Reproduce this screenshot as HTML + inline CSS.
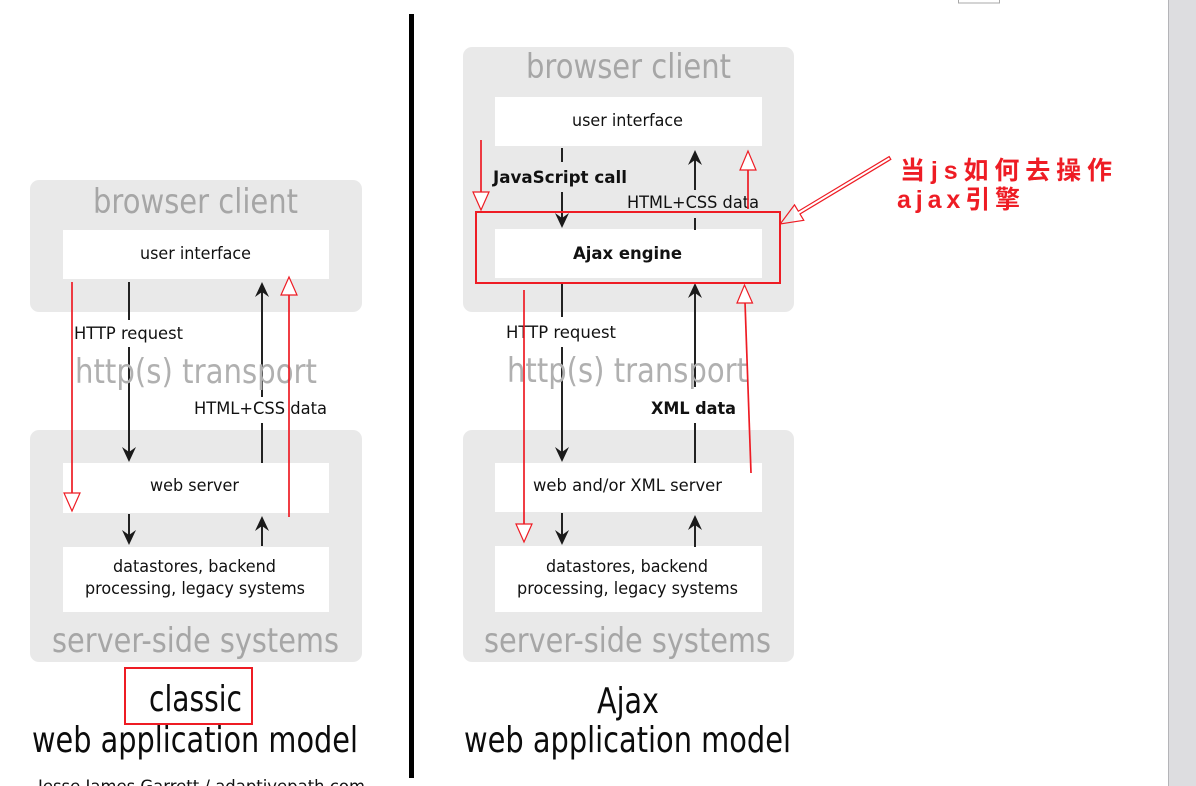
<!DOCTYPE html>
<html><head><meta charset="utf-8"><style>
html,body{margin:0;padding:0;background:#fff;}
svg{display:block;}
</style></head><body>
<svg width="1196" height="786" viewBox="0 0 1196 786" xmlns="http://www.w3.org/2000/svg">
<rect x="0" y="0" width="1196" height="786" fill="#ffffff"/>
<!-- right panel -->
<rect x="1168" y="0" width="28" height="786" fill="#dddde0"/>
<line x1="1168.5" y1="0" x2="1168.5" y2="786" stroke="#b4b4b8" stroke-width="1"/>
<rect x="958.5" y="-2" width="41" height="5" fill="none" stroke="#a8a8a8" stroke-width="1"/>

<!-- divider -->
<rect x="409" y="14" width="5" height="764" fill="#000"/>

<!-- gray boxes -->
<g fill="#e9e9e9">
<rect x="30" y="180" width="332" height="132" rx="9"/>
<rect x="30" y="430" width="332" height="232" rx="9"/>
<rect x="463" y="47" width="331" height="265" rx="9"/>
<rect x="463" y="430" width="331" height="232" rx="9"/>
</g>
<!-- white boxes -->
<g fill="#ffffff">
<rect x="63" y="230" width="266" height="49"/>
<rect x="63" y="463" width="266" height="50"/>
<rect x="63" y="547" width="266" height="65"/>
<rect x="495" y="97" width="267" height="49"/>
<rect x="495" y="229" width="267" height="49"/>
<rect x="495" y="463" width="267" height="49"/>
<rect x="495" y="546" width="267" height="66"/>
</g>

<!-- black arrows -->
<g stroke="#222" stroke-width="2" fill="none">
<line x1="129" y1="282" x2="129" y2="320"/>
<line x1="129" y1="347" x2="129" y2="455"/>
<line x1="262" y1="463" x2="262" y2="423"/>
<line x1="262" y1="397" x2="262" y2="290"/>
<line x1="129" y1="514" x2="129" y2="538"/>
<line x1="262" y1="546" x2="262" y2="523"/>

<line x1="562" y1="148" x2="562" y2="162"/>
<line x1="562" y1="192" x2="562" y2="221"/>
<line x1="695" y1="230" x2="695" y2="218"/>
<line x1="695" y1="190" x2="695" y2="157"/>
<line x1="562" y1="283" x2="562" y2="317"/>
<line x1="562" y1="347" x2="562" y2="455"/>
<line x1="695" y1="463" x2="695" y2="423"/>
<line x1="695" y1="387" x2="695" y2="290"/>
<line x1="562" y1="513" x2="562" y2="538"/>
<line x1="695" y1="547" x2="695" y2="522"/>
</g>
<g fill="#1a1a1a">
<path d="M129 462 L122 447 L129 452 L136 447 Z"/>
<path d="M129 545 L122 530 L129 535 L136 530 Z"/>
<path d="M562 228 L555 213 L562 218 L569 213 Z"/>
<path d="M562 462 L555 447 L562 452 L569 447 Z"/>
<path d="M562 545 L555 530 L562 535 L569 530 Z"/>
<path d="M262 282 L255 297 L262 292 L269 297 Z"/>
<path d="M262 516 L255 531 L262 526 L269 531 Z"/>
<path d="M695 150 L688 165 L695 160 L702 165 Z"/>
<path d="M695 283 L688 298 L695 293 L702 298 Z"/>
<path d="M695 515 L688 530 L695 525 L702 530 Z"/>
</g>

<!-- text -->
<g font-family="'DejaVu Sans','Liberation Sans',sans-serif">
<g fill="#a6a6a6" font-size="34">
<text x="93" y="213" textLength="205" lengthAdjust="spacingAndGlyphs">browser client</text>
<text x="526" y="78" textLength="205" lengthAdjust="spacingAndGlyphs">browser client</text>
<text x="52" y="652" textLength="287" lengthAdjust="spacingAndGlyphs">server-side systems</text>
<text x="484" y="652" textLength="287" lengthAdjust="spacingAndGlyphs">server-side systems</text>
</g>
<g fill="#b0b0b0" font-size="34">
<text x="75" y="383" textLength="242" lengthAdjust="spacingAndGlyphs">http(s) transport</text>
<text x="507" y="382" textLength="241" lengthAdjust="spacingAndGlyphs">http(s) transport</text>
</g>
<g fill="#111" font-size="17">
<text x="140" y="259" textLength="111" lengthAdjust="spacingAndGlyphs">user interface</text>
<text x="74" y="339" textLength="109" lengthAdjust="spacingAndGlyphs">HTTP request</text>
<text x="194" y="414" textLength="133" lengthAdjust="spacingAndGlyphs">HTML+CSS data</text>
<text x="150" y="491" textLength="89" lengthAdjust="spacingAndGlyphs">web server</text>
<text x="113" y="572" textLength="163" lengthAdjust="spacingAndGlyphs">datastores, backend</text>
<text x="85" y="594" textLength="220" lengthAdjust="spacingAndGlyphs">processing, legacy systems</text>

<text x="572" y="126" textLength="111" lengthAdjust="spacingAndGlyphs">user interface</text>
<text x="627" y="208" textLength="132" lengthAdjust="spacingAndGlyphs">HTML+CSS data</text>
<text x="506" y="338" textLength="110" lengthAdjust="spacingAndGlyphs">HTTP request</text>
<text x="533" y="491" textLength="189" lengthAdjust="spacingAndGlyphs">web and/or XML server</text>
<text x="546" y="572" textLength="162" lengthAdjust="spacingAndGlyphs">datastores, backend</text>
<text x="517" y="594" textLength="221" lengthAdjust="spacingAndGlyphs">processing, legacy systems</text>
<text x="38" y="792" textLength="327" lengthAdjust="spacingAndGlyphs">Jesse James Garrett / adaptivepath.com</text>
</g>
<g fill="#111" font-size="17" font-weight="bold">
<text x="493" y="183" textLength="134" lengthAdjust="spacingAndGlyphs">JavaScript call</text>
<text x="573" y="259" textLength="109" lengthAdjust="spacingAndGlyphs">Ajax engine</text>
<text x="651" y="414" textLength="85" lengthAdjust="spacingAndGlyphs">XML data</text>
</g>
<g fill="#0c0c0c" font-size="36">
<text x="149" y="711" textLength="93" lengthAdjust="spacingAndGlyphs">classic</text>
<text x="32" y="752" textLength="326" lengthAdjust="spacingAndGlyphs">web application model</text>
<text x="597" y="713" textLength="62" lengthAdjust="spacingAndGlyphs">Ajax</text>
<text x="464" y="752" textLength="327" lengthAdjust="spacingAndGlyphs">web application model</text>
</g>
</g>

<!-- red annotations -->
<g fill="none" stroke="#ee1c24" stroke-width="2">
<rect x="476" y="212" width="304" height="71"/>
<rect x="125" y="668" width="127" height="56"/>
</g>
<!-- shafts -->
<g stroke="#ee1c24" stroke-width="1.7" fill="none">
<line x1="72" y1="282" x2="72" y2="494"/>
<line x1="289" y1="517" x2="289" y2="294"/>
<line x1="481" y1="140" x2="481" y2="193"/>
<line x1="748" y1="209" x2="748" y2="169"/>
<line x1="524" y1="290" x2="524" y2="525"/>
<line x1="751" y1="473" x2="745" y2="302"/>
</g>
<!-- hollow heads -->
<g fill="#fff" stroke="#ee1c24" stroke-width="1.2" stroke-linejoin="miter">
<path d="M64 493 L80 493 L72 511 Z"/>
<path d="M281 295 L297 295 L289 277 Z"/>
<path d="M473 192 L489 192 L481 210 Z"/>
<path d="M740 170 L756 170 L748 151 Z"/>
<path d="M516 524 L532 524 L524 542 Z"/>
<path d="M737 303 L752.5 303 L744.5 285 Z"/>
<g transform="translate(890,158) rotate(149)">
<path d="M0 -1.6 L106 -1.6 L106 -9 L128 0 L106 9 L106 1.6 L0 1.6 Z" fill="none"/>
</g>
</g>
<g fill="#ee1c24" font-family="'Liberation Sans','Noto Sans CJK SC',sans-serif" font-weight="bold" font-size="25">
<text x="900" y="179" textLength="212" lengthAdjust="spacing">当js如何去操作</text>
<text x="897" y="208" textLength="123" lengthAdjust="spacing">ajax引擎</text>
</g>
</svg>
</body></html>
